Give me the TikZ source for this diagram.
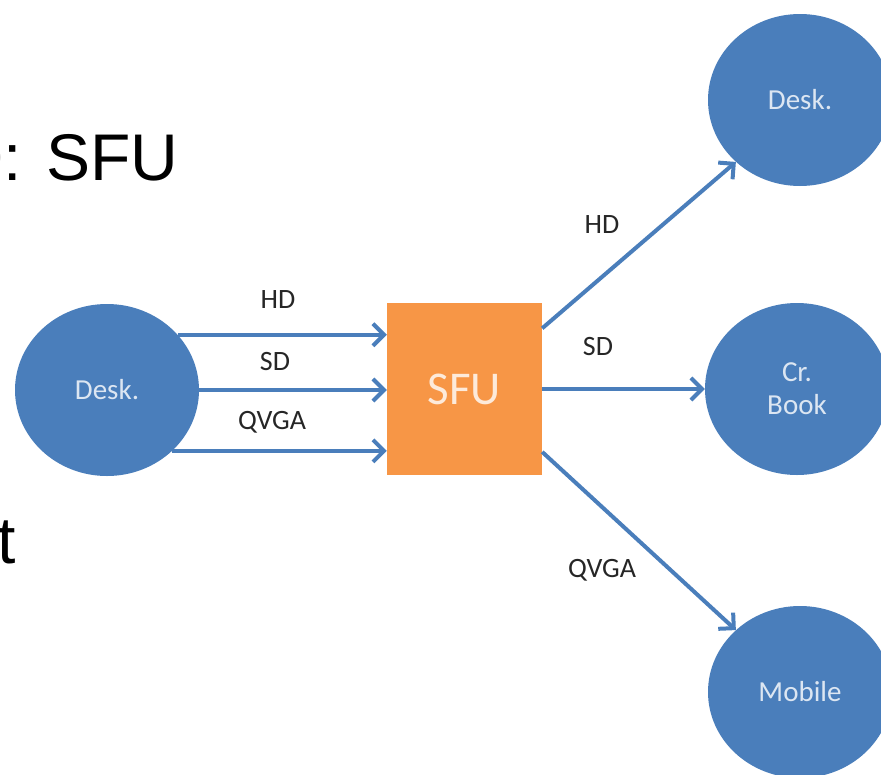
\documentclass[tikz,border=0pt]{standalone}
\usepackage{fontspec}
\setmainfont{Carlito}
\newfontfamily\slidefont{Liberation Sans}
\usetikzlibrary{arrows.meta,positioning,shapes.geometric}
\definecolor{nodeblue}{HTML}{4A7EBB}
\definecolor{nodetext}{HTML}{DCE6F2}
\definecolor{sfuorange}{HTML}{F79646}
\definecolor{sfutext}{HTML}{FDEADA}
\definecolor{labelgray}{HTML}{262626}

\begin{document}
\begin{tikzpicture}[x=1pt, y=-1pt,
    client/.style={ellipse, fill=nodeblue, minimum width=184pt, minimum height=172pt,
        inner sep=0pt, text=nodetext, align=center, font=\fontsize{29}{33}\selectfont},
    flow/.style={draw=nodeblue, line width=4pt,
        -{Straight Barb[length=11pt, width=22pt, line width=4pt]}},
    rate/.style={text=labelgray, font=\fontsize{28}{30}\selectfont}]
        \clip (0,0) rectangle (881,774);
        \useasboundingbox (0,0) rectangle (881,774);

        % Slide text, cut at the left edge
        \node[anchor=base east, font=\slidefont\fontsize{66}{70}\selectfont] (title) at (182,180) {0: SFU};
        \node[anchor=base east, font=\slidefont\fontsize{66}{70}\selectfont] (cut) at (19,563) {t};

        % Sender and forwarding unit
        \node[client] (sender) at (107,390) {Desk.};
        \node[rectangle, fill=sfuorange, minimum width=155pt, minimum height=172pt,
            text=sfutext, font=\fontsize{47}{50}\selectfont] (sfu) at (464.5,389) {SFU};

        % Receivers
        \node[client] (desk) at (800,100) {Desk.};
        \node[client] (book) at (797,389) {Cr.\\Book};
        \node[client] (mobile) at (800,692) {Mobile};

        % Uplink: three layers
        \draw[flow] (sender.38) -- (sender.38 -| sfu.west);
        \draw[flow] (sender.east) -- (sender.east -| sfu.west);
        \draw[flow] (sender.-43) -- (sender.-43 -| sfu.west);
        \node[rate] (upHD) at (278,300) {HD};
        \node[rate] (upSD) at (275,362) {SD};
        \node[rate] (upQVGA) at (272,422) {QVGA};

        % Downlink: one layer per receiver
        \draw[flow] (sfu.38) -- (desk.224);
        \draw[flow] (sfu.east) -- (book.west);
        \draw[flow] (sfu.-39) -- (mobile.136);
        \node[rate] (downHD) at (602,225) {HD};
        \node[rate] (downSD) at (598,347) {SD};
        \node[rate] (downQVGA) at (602,570) {QVGA};
    \end{tikzpicture}
\end{document}
